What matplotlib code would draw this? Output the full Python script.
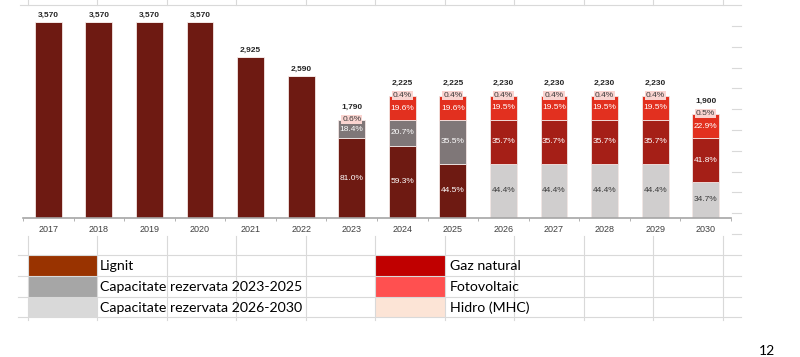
import matplotlib
matplotlib.use('Agg')
import matplotlib.pyplot as plt
from matplotlib.patches import Rectangle
from matplotlib.lines import Line2D

# data
years = ['2017', '2018', '2019', '2020', '2021', '2022', '2023',
         '2024', '2025', '2026', '2027', '2028', '2029', '2030']
totals = [3570, 3570, 3570, 3570, 2925, 2590, 1790,
          2225, 2225, 2230, 2230, 2230, 2230, 1900]
# shares in percent (0 = not present)
lignit = [100, 100, 100, 100, 100, 100, 81.0, 59.3, 44.5, 0, 0, 0, 0, 0]
rez_2325 = [0, 0, 0, 0, 0, 0, 18.4, 20.7, 35.5, 0, 0, 0, 0, 0]
rez_2630 = [0, 0, 0, 0, 0, 0, 0, 0, 0, 44.4, 44.4, 44.4, 44.4, 34.7]
gaz = [0, 0, 0, 0, 0, 0, 0, 0, 0, 35.7, 35.7, 35.7, 35.7, 41.8]
fotovoltaic = [0, 0, 0, 0, 0, 0, 0, 19.6, 19.6, 19.5, 19.5, 19.5, 19.5, 22.9]
hidro = [0, 0, 0, 0, 0, 0, 0.6, 0.4, 0.4, 0.4, 0.4, 0.4, 0.4, 0.5]

legend_left = ['Lignit', 'Capacitate rezervata 2023-2025', 'Capacitate rezervata 2026-2030']
legend_right = ['Gaz natural', 'Fotovoltaic', 'Hidro (MHC)']

W, H = 800, 357
fig = plt.figure(figsize=(8, 3.57), dpi=100)


def fx(px):
    return px / W


def fy(py):
    return 1 - py / H


# excel grid in the background
grid_c = '#D9D9D9'
cols = [28, 97, 167, 236, 306, 375, 445, 514, 584, 653, 723]
fig.add_artist(Line2D([fx(20), fx(741)], [fy(5), fy(5)], color=grid_c, lw=0.8))
for c in cols:
    fig.add_artist(Line2D([fx(c), fx(c)], [fy(0), fy(5)], color=grid_c, lw=0.8))
    fig.add_artist(Line2D([fx(c), fx(c)], [fy(236), fy(320)], color=grid_c, lw=0.8))
for r in [26, 47, 68, 88, 109, 130, 151, 172, 192, 213, 234]:
    fig.add_artist(Line2D([fx(732), fx(741)], [fy(r), fy(r)], color=grid_c, lw=0.8))
for r in [255, 276, 297, 317]:
    fig.add_artist(Line2D([fx(18), fx(741)], [fy(r), fy(r)], color=grid_c, lw=0.8))

# chart
ax = fig.add_axes([fx(23), fy(218), fx(731) - fx(23), (218 - 8) / H])
ax.set_xlim(-0.5, 13.5)
ax.set_ylim(0, 210 / 196 * 3570)

series = [
    (lignit, '#6E1A12', 'white'),
    (rez_2325, '#7F7778', 'white'),
    (rez_2630, '#D0CECE', '#3A3A3A'),
    (gaz, '#A51F17', 'white'),
    (fotovoltaic, '#E2301F', 'white'),
]
x = list(range(len(years)))
bottoms = [0.0] * len(years)
bw = 0.53
for shares, color, tcol in series:
    vals = [t * s / 100 for t, s in zip(totals, shares)]
    ax.bar(x, vals, bw, bottom=bottoms, color=color, edgecolor='#F2E6E4', linewidth=0.6)
    for i, (v, s) in enumerate(zip(vals, shares)):
        if s > 0 and s < 100:
            ax.text(i, bottoms[i] + v / 2, f'{s:.1f}%', ha='center', va='center',
                    fontsize=6, color=tcol, family='Liberation Sans')
    bottoms = [b + v for b, v in zip(bottoms, vals)]

# hidro: tiny slice, label in a pink box on top of the bar
hv = [t * s / 100 for t, s in zip(totals, hidro)]
ax.bar(x, hv, bw, bottom=bottoms, color='#F8C9C3', linewidth=0)
for i, s in enumerate(hidro):
    if s > 0:
        ax.text(i, totals[i], f'{s:.1f}%', ha='center', va='center', fontsize=6,
                color='#3A3A3A', family='Liberation Sans',
                bbox=dict(boxstyle='square,pad=0.12', fc='#FAD4D0', ec='none'))

for i, t in enumerate(totals):
    off = 9 if hidro[i] > 0 else 5
    ax.annotate(f'{t:,}', (i, t), xytext=(0, off), textcoords='offset points',
                ha='center', va='center', fontsize=6, fontweight='bold',
                color='#262626', family='Liberation Sans')

for s in ['top', 'right', 'left']:
    ax.spines[s].set_visible(False)
ax.spines['bottom'].set_color('#A6A6A6')
ax.spines['bottom'].set_linewidth(1.2)
ax.set_yticks([])
ax.set_xticks([i - 0.5 for i in range(len(years) + 1)], minor=True)
ax.set_xticks(x)
ax.set_xticklabels(years, fontsize=6.5, color='#404040', family='Liberation Sans')
ax.tick_params(axis='x', which='major', length=0, pad=5)
ax.tick_params(axis='x', which='minor', length=2, color='#A6A6A6')

# legend table
sw_left = ['#993300', '#A6A6A6', '#D9D9D9']
sw_right = ['#C00000', '#FF5050', '#FCE4D6']
rows = [255, 276, 297]
for r, lab, c in zip(rows, legend_left, sw_left):
    fig.add_artist(Rectangle((fx(28), fy(r + 21)), fx(97) - fx(28), 20.5 / H,
                             facecolor=c, edgecolor='none'))
    fig.text(fx(100), fy(r + 11), lab, fontsize=10.2, family='Lato', va='center', color='black')
for r, lab, c in zip(rows, legend_right, sw_right):
    fig.add_artist(Rectangle((fx(375), fy(r + 21)), fx(445) - fx(375), 20.5 / H,
                             facecolor=c, edgecolor='none'))
    fig.text(fx(450), fy(r + 11), lab, fontsize=10.2, family='Lato', va='center', color='black')

fig.text(fx(767), fy(351), '12', fontsize=10, family='Lato', ha='center', va='center',
         color='black')

fig.savefig('out.png', dpi=100)
